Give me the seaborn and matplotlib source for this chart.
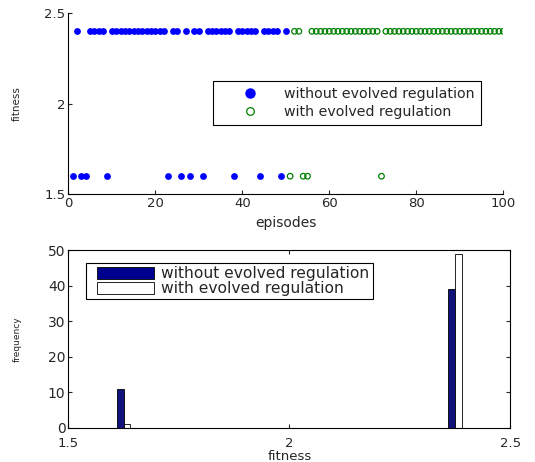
import numpy as np
import pandas as pd
import seaborn as sns
import matplotlib
matplotlib.use("Agg")
import matplotlib.pyplot as plt
from matplotlib.lines import Line2D
from matplotlib.patches import Patch, Rectangle
from matplotlib.legend_handler import HandlerPatch

# ---------------- data ----------------
without_low_eps = [1, 3, 4, 9, 23, 26, 28, 31, 38, 44, 49]
with_low_eps = [51, 54, 55, 72]
episodes_without = list(range(1, 51))
episodes_with = list(range(51, 101))
fit_low = 1.6
fit_high = 2.4

fitness_without = [fit_low if e in without_low_eps else fit_high for e in episodes_without]
fitness_with = [fit_low if e in with_low_eps else fit_high for e in episodes_with]

hist_centers = [1.625, 2.375]
hist_without = [11, 39]
hist_with = [1, 49]

label_without = "without evolved regulation"
label_with = "with evolved regulation"

# ---------------- style ----------------
sns.set_style("ticks")
plt.rcParams["font.family"] = ["DejaVu Sans"]
plt.rcParams["xtick.direction"] = "in"
plt.rcParams["ytick.direction"] = "in"
plt.rcParams["axes.linewidth"] = 0.8

fig = plt.figure(figsize=(5.35, 4.62), dpi=100)
ax1 = fig.add_axes([0.1277, 0.5794, 0.813, 0.392])
ax2 = fig.add_axes([0.1277, 0.0736, 0.826, 0.385])

# ---------------- top scatter ----------------
df_top_wo = pd.DataFrame({"episodes": episodes_without, "fitness": fitness_without})
df_top_w = pd.DataFrame({"episodes": episodes_with, "fitness": fitness_with})

sns.scatterplot(data=df_top_wo, x="episodes", y="fitness", ax=ax1,
                color="#0000FF", s=24, linewidth=0, marker="o", legend=False)
sns.scatterplot(data=df_top_w, x="episodes", y="fitness", ax=ax1,
                facecolors="none", edgecolor="#008000", s=16, linewidth=0.9,
                marker="o", legend=False)

ax1.set_xlim(0, 100)
ax1.set_ylim(1.5, 2.5)
ax1.set_xticks([0, 20, 40, 60, 80, 100])
ax1.set_yticks([1.5, 2.0, 2.5])
ax1.set_yticklabels(["1.5", "2", "2.5"])
ax1.set_xlabel("episodes", fontsize=10, labelpad=4.5)
ax1.set_ylabel("fitness", fontsize=7.5, labelpad=16)
ax1.tick_params(labelsize=9.5, length=3, width=0.8, pad=2)
sns.despine(ax=ax1)
for sp in ["left", "bottom"]:
    ax1.spines[sp].set_color("black")

h1 = [Line2D([], [], ls="none", marker="o", color="#0000FF", markersize=6.5),
      Line2D([], [], ls="none", marker="o", markerfacecolor="none",
             markeredgecolor="#008000", markersize=5.5, markeredgewidth=0.9)]
leg1 = ax1.legend(h1, [label_without, label_with], loc="upper left",
                  bbox_to_anchor=(0.332, 0.628), fontsize=10.2, frameon=True,
                  fancybox=False, edgecolor="black", framealpha=1,
                  handlelength=4.4, handletextpad=0.15, borderpad=0.45,
                  labelspacing=0.25, borderaxespad=0)
leg1.get_frame().set_linewidth(0.8)

# ---------------- bottom histogram ----------------
df_bot = pd.DataFrame({
    "fitness": hist_centers + hist_centers,
    "frequency": hist_without + hist_with,
    "series": [label_without] * len(hist_centers) + [label_with] * len(hist_centers),
})
sns.barplot(data=df_bot, x="fitness", y="frequency", hue="series", ax=ax2,
            native_scale=True, width=0.04, gap=0, dodge=True,
            palette={label_without: "#00008F", label_with: "white"},
            edgecolor="black", linewidth=0.6, legend=False)

ax2.set_xlim(1.5, 2.5)
ax2.set_ylim(0, 50)
ax2.set_xticks([1.5, 2.0, 2.5])
ax2.set_xticklabels(["1.5", "2", "2.5"])
ax2.set_yticks([0, 10, 20, 30, 40, 50])
ax2.set_xlabel("fitness", fontsize=9.5, labelpad=0)
ax2.set_ylabel("frequency", fontsize=6.5, labelpad=19)
ax2.tick_params(labelsize=10, length=3, width=0.8, pad=2,
                top=True, right=True)
ax2.tick_params(axis="x", pad=6.5, labelsize=9.5)
for sp in ax2.spines.values():
    sp.set_visible(True)
    sp.set_color("black")


def offset_patch(legend, orig_handle, xdescent, ydescent, width, height, fontsize):
    off = 6.0
    return Rectangle((-xdescent + off, -ydescent), width - off, height)


h2 = [Patch(facecolor="#00008F", edgecolor="black", linewidth=0.6),
      Patch(facecolor="white", edgecolor="black", linewidth=0.6)]
leg2 = ax2.legend(h2, [label_without, label_with], loc="upper left",
                  bbox_to_anchor=(0.04, 0.927), fontsize=11.2, frameon=True,
                  fancybox=False, edgecolor="black", framealpha=1,
                  handlelength=4.2, handleheight=0.78, handletextpad=0.45,
                  borderpad=0.2, labelspacing=0.0, borderaxespad=0,
                  handler_map={Patch: HandlerPatch(patch_func=offset_patch)})
leg2.get_frame().set_linewidth(0.8)

fig.savefig("out.png", dpi=100)
